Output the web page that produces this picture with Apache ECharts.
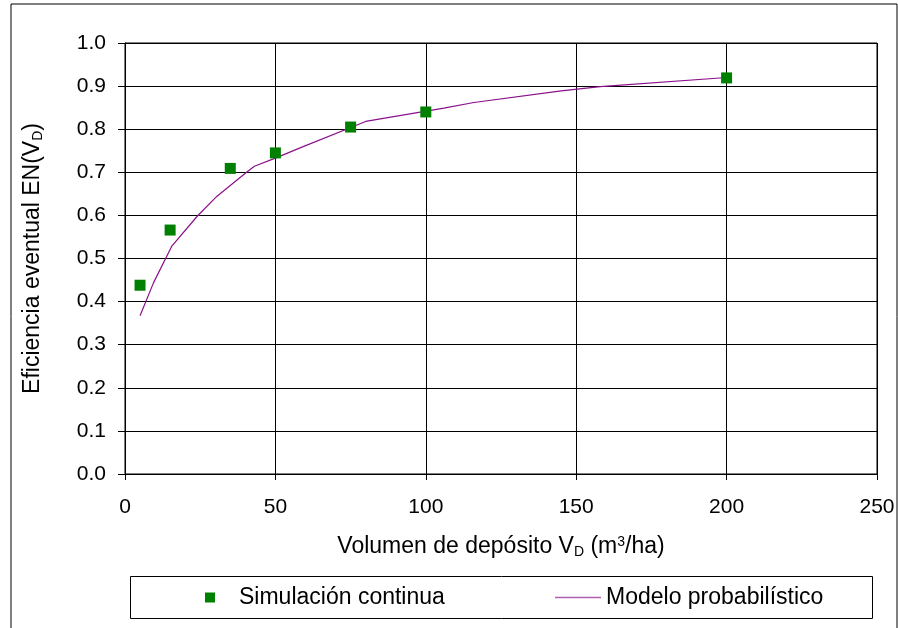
<!DOCTYPE html>
<html>
<head>
<meta charset="utf-8">
<script src="https://cdn.jsdelivr.net/npm/echarts@6/dist/echarts.min.js"></script>
<style>html,body{margin:0;padding:0;background:#fff}#c{width:898px;height:628px}</style>
</head>
<body>
<div id="c"></div>
<script>
var simX = [5, 15, 35, 50, 75, 100, 200];
var simY = [0.438, 0.566, 0.709, 0.745, 0.805, 0.840, 0.919];
var modelX = [5, 9.5, 15.5, 24, 30.5, 40, 43, 50, 58, 80, 106, 116, 145, 158, 200];
var modelY = [0.367, 0.444, 0.528, 0.598, 0.644, 0.698, 0.714, 0.733, 0.756, 0.818, 0.849, 0.862, 0.889, 0.899, 0.920];
var xTicks = [0, 50, 100, 150, 200, 250];
var yTicks = [0.0, 0.1, 0.2, 0.3, 0.4, 0.5, 0.6, 0.7, 0.8, 0.9, 1.0];

var font = 'Liberation Sans, Arial, sans-serif';
var chart = echarts.init(document.getElementById('c'));
chart.setOption({
  animation: false,
  backgroundColor: '#fff',
  textStyle: {fontFamily: font, color: '#000'},
  grid: {left: 125, right: 21, top: 43, bottom: 154, show: true, borderColor: '#000', borderWidth: 1},
  graphic: [
    {type: 'rect', shape: {x: 11, y: 4, width: 886, height: 640}, style: {fill: 'none', stroke: '#000', lineWidth: 1}, z: 0, silent: true},
    {type: 'rect', shape: {x: 130.5, y: 576.5, width: 742, height: 42}, style: {fill: '#fff', stroke: '#000', lineWidth: 1}, z: 1, silent: true}
  ],
  xAxis: {
    type: 'value', min: xTicks[0], max: xTicks[xTicks.length - 1], interval: 50,
    axisLine: {onZero: false, lineStyle: {color: '#000'}},
    axisTick: {show: true, length: 6, lineStyle: {color: '#000'}},
    axisLabel: {fontSize: 21, color: '#000', margin: 23, fontFamily: font},
    splitLine: {show: true, lineStyle: {color: '#000', width: 1}},
    name: 'Volumen de depósito V{sub|D} (m{sup|3}/ha)',
    nameLocation: 'middle', nameGap: 61,
    nameTextStyle: {fontSize: 23, color: '#000', fontFamily: font,
      rich: {sub: {fontSize: 14, verticalAlign: 'bottom', padding: [10, 0, 0, 0], fontFamily: font},
             sup: {fontSize: 14, verticalAlign: 'top', padding: [0, 0, 10, 0], fontFamily: font}}}
  },
  yAxis: {
    type: 'value', min: 0, max: 1, interval: 0.1,
    axisLine: {show: true, lineStyle: {color: '#000'}},
    axisTick: {show: true, length: 7, lineStyle: {color: '#000'}},
    axisLabel: {fontSize: 21, color: '#000', margin: 19, fontFamily: font, formatter: function (v) { return v.toFixed(1); }},
    splitLine: {show: true, lineStyle: {color: '#000', width: 1}},
    name: 'Eficiencia eventual EN(V{sub|D})',
    nameLocation: 'middle', nameGap: 80,
    nameTextStyle: {fontSize: 23, color: '#000', fontFamily: font,
      rich: {sub: {fontSize: 14, verticalAlign: 'bottom', padding: [10, 0, 0, 0], fontFamily: font}}}
  },
  legend: [
    {data: ['Simulación continua'], left: 200, top: 581, itemWidth: 10, itemHeight: 10,
     icon: 'rect', textStyle: {fontSize: 23, color: '#000', fontFamily: font, padding: [0, 0, 0, 19]}},
    {data: ['Modelo probabilístico'], left: 550, top: 581, itemWidth: 46, itemHeight: 1.5,
     icon: 'rect', textStyle: {fontSize: 23, color: '#000', fontFamily: font}}
  ],
  series: [
    {name: 'Modelo probabilístico', type: 'line', data: modelX.map(function (x, i) { return [x, modelY[i]]; }),
     showSymbol: false, symbol: 'none', smooth: false, lineStyle: {color: '#8b108b', width: 1.2}, itemStyle: {color: '#b060b0'}, z: 3},
    {name: 'Simulación continua', type: 'scatter', data: simX.map(function (x, i) { return [x, simY[i]]; }),
     symbol: 'rect', symbolSize: 11, itemStyle: {color: '#008000', opacity: 1}, z: 4}
  ]
});
</script>
</body>
</html>
